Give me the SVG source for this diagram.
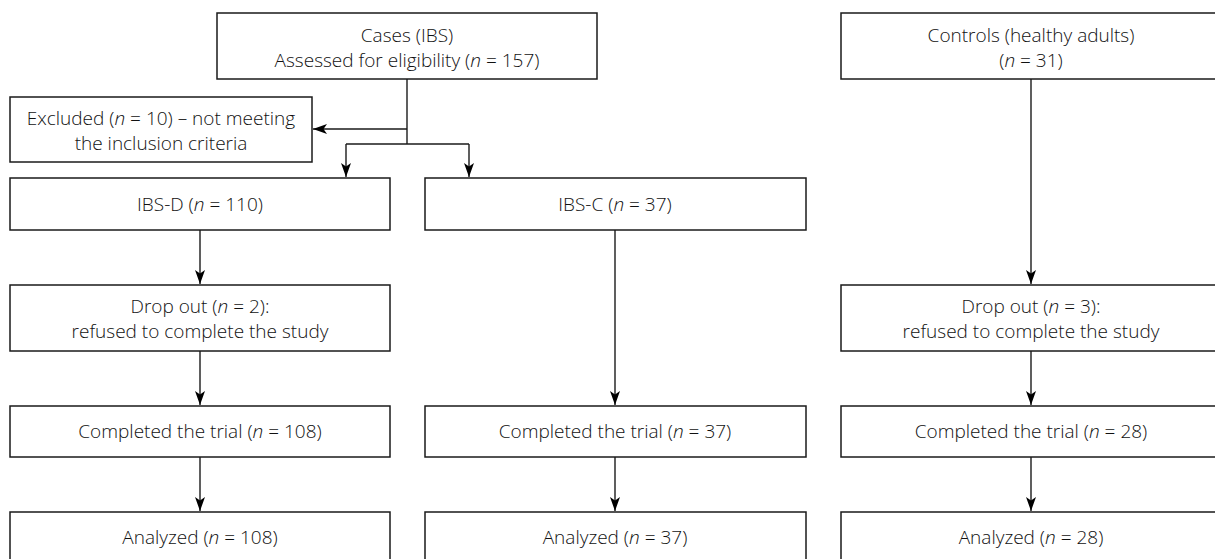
<svg xmlns="http://www.w3.org/2000/svg" width="1215" height="559" viewBox="0 0 1215 559">
<style>
.box{fill:#fff;stroke:#1a1a1a;stroke-width:1.5}
.t{font-family:"Open Sans","Lato","Liberation Sans",sans-serif;font-weight:300;font-size:19px;fill:#111;text-anchor:middle}
.i{font-style:italic}
.c{fill:none;stroke:#1a1a1a;stroke-width:1.4}
</style>
<defs>
<marker id="ah" markerWidth="14" markerHeight="10" refX="14" refY="5" orient="auto" markerUnits="userSpaceOnUse" viewBox="0 0 14 10">
<path d="M0,0 L14,5 L0,10 L3.5,5 Z" fill="#000"/>
</marker>
</defs>
<rect width="1215" height="559" fill="#fff"/>
<g id="connectors">
<path class="c" d="M407,79 V144"/>
<path class="c" d="M407,129 H313" marker-end="url(#ah)"/>
<path class="c" d="M346,144 H469"/>
<path class="c" d="M346,144 V177" marker-end="url(#ah)"/>
<path class="c" d="M469,144 V177" marker-end="url(#ah)"/>
<path class="c" d="M200,230 V284" marker-end="url(#ah)"/>
<path class="c" d="M200,351 V405" marker-end="url(#ah)"/>
<path class="c" d="M200,457 V511" marker-end="url(#ah)"/>
<path class="c" d="M615,230 V405" marker-end="url(#ah)"/>
<path class="c" d="M615,457 V511" marker-end="url(#ah)"/>
<path class="c" d="M1031,79 V284" marker-end="url(#ah)"/>
<path class="c" d="M1031,351 V405" marker-end="url(#ah)"/>
<path class="c" d="M1031,457 V511" marker-end="url(#ah)"/>
</g>
<g id="cases">
<rect class="box" x="217" y="13" width="380" height="66"/>
<text class="t" x="407" y="42">Cases (IBS)</text>
<text class="t" x="407" y="67">Assessed for eligibility (<tspan class="i">n</tspan> = 157)</text>
</g>
<g id="controls">
<rect class="box" x="841" y="13" width="381" height="66"/>
<text class="t" x="1031" y="42">Controls (healthy adults)</text>
<text class="t" x="1031" y="67">(<tspan class="i">n</tspan> = 31)</text>
</g>
<g id="excluded">
<rect class="box" x="10" y="97" width="302" height="65"/>
<text class="t" x="161" y="125">Excluded (<tspan class="i">n</tspan> = 10) – not meeting</text>
<text class="t" x="161" y="150">the inclusion criteria</text>
</g>
<g id="ibsd">
<rect class="box" x="10" y="178" width="380" height="52"/>
<text class="t" x="200" y="211">IBS-D (<tspan class="i">n</tspan> = 110)</text>
</g>
<g id="ibsc">
<rect class="box" x="425" y="178" width="381" height="52"/>
<text class="t" x="615" y="211">IBS-C (<tspan class="i">n</tspan> = 37)</text>
</g>
<g id="dropout-d">
<rect class="box" x="10" y="285" width="380" height="66"/>
<text class="t" x="200" y="313">Drop out (<tspan class="i">n</tspan> = 2):</text>
<text class="t" x="200" y="338">refused to complete the study</text>
</g>
<g id="dropout-ctrl">
<rect class="box" x="841" y="285" width="381" height="66"/>
<text class="t" x="1031" y="313">Drop out (<tspan class="i">n</tspan> = 3):</text>
<text class="t" x="1031" y="338">refused to complete the study</text>
</g>
<g id="completed-d">
<rect class="box" x="10" y="406" width="380" height="51"/>
<text class="t" x="200" y="438">Completed the trial (<tspan class="i">n</tspan> = 108)</text>
</g>
<g id="completed-c">
<rect class="box" x="425" y="406" width="381" height="51"/>
<text class="t" x="615" y="438">Completed the trial (<tspan class="i">n</tspan> = 37)</text>
</g>
<g id="completed-ctrl">
<rect class="box" x="841" y="406" width="381" height="51"/>
<text class="t" x="1031" y="438">Completed the trial (<tspan class="i">n</tspan> = 28)</text>
</g>
<g id="analyzed-d">
<rect class="box" x="10" y="512" width="380" height="52"/>
<text class="t" x="200" y="544">Analyzed (<tspan class="i">n</tspan> = 108)</text>
</g>
<g id="analyzed-c">
<rect class="box" x="425" y="512" width="381" height="52"/>
<text class="t" x="615" y="544">Analyzed (<tspan class="i">n</tspan> = 37)</text>
</g>
<g id="analyzed-ctrl">
<rect class="box" x="841" y="512" width="381" height="52"/>
<text class="t" x="1031" y="544">Analyzed (<tspan class="i">n</tspan> = 28)</text>
</g>
</svg>
